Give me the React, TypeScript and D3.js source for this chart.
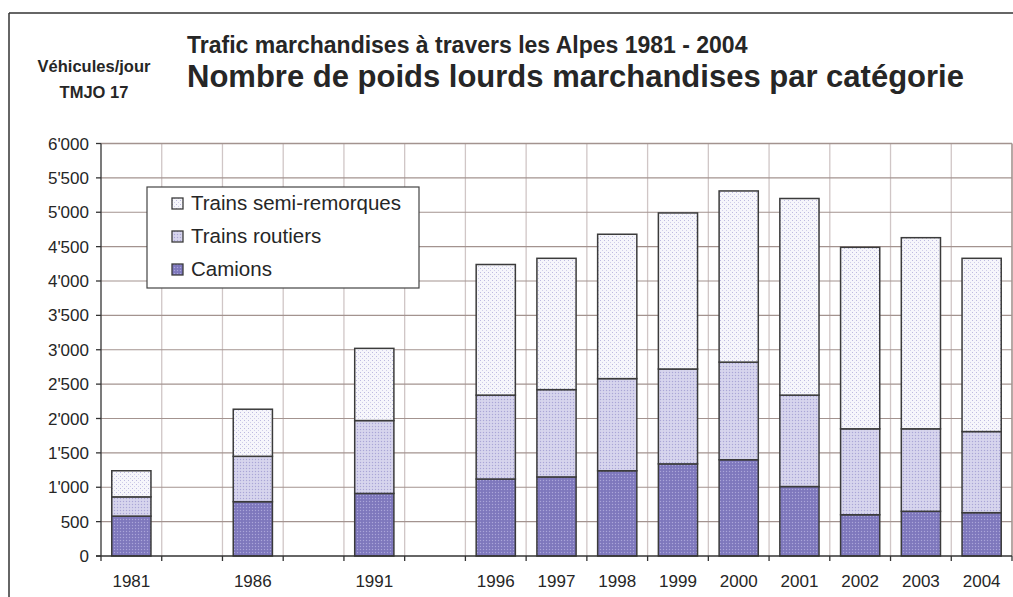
import React from "react";
import * as d3 from "d3";

const slots = ["1981", "_a", "1986", "_b", "1991", "_c", "1996", "1997", "1998", "1999", "2000", "2001", "2002", "2003", "2004"];
const years = ["1981", "1986", "1991", "1996", "1997", "1998", "1999", "2000", "2001", "2002", "2003", "2004"];
const camions = [580, 790, 910, 1120, 1150, 1240, 1340, 1400, 1010, 600, 650, 630];
const trainsRoutiers = [280, 660, 1060, 1220, 1270, 1340, 1380, 1420, 1330, 1250, 1200, 1180];
const trainsSemiRemorques = [380, 685, 1050, 1900, 1910, 2100, 2270, 2490, 2860, 2640, 2780, 2520];
const yTicks = [0, 500, 1000, 1500, 2000, 2500, 3000, 3500, 4000, 4500, 5000, 5500, 6000];
const seriesNames = ["Camions", "Trains routiers", "Trains semi-remorques"];
const legendOrder = ["Trains semi-remorques", "Trains routiers", "Camions"];

const W = 1013;
const H = 597;
const fmt = d3.formatLocale({ decimal: ".", thousands: "'", grouping: [3], currency: ["", ""] }).format(",");
const font = "Liberation Sans, Arial, sans-serif";

export default function App() {
  const x = d3.scaleBand<string>().domain(slots).range([101, 1012]).paddingInner(0).paddingOuter(0);
  const y = d3.scaleLinear().domain([0, 6000]).range([556, 143.5]);
  const barW = x.bandwidth() / 1.55;

  const rows = years.map((yr, i) => ({
    year: yr,
    Camions: camions[i],
    "Trains routiers": trainsRoutiers[i],
    "Trains semi-remorques": trainsSemiRemorques[i],
  }));
  const stacked = d3.stack<any>().keys(seriesNames)(rows);
  const patId: Record<string, string> = {
    Camions: "pCam",
    "Trains routiers": "pRout",
    "Trains semi-remorques": "pSemi",
  };

  const boundaries = slots.map((s) => x(s)!).concat([x.range()[1]]);
  const [plotL, plotR] = x.range();
  const gridH = "#a3938f";
  const gridV = "#d0c6c6";
  const axisC = "#333333";
  const textC = "#262626";

  return (
    <svg width={W} height={H} style={{ position: "absolute", left: 0, top: 0, background: "#fff" }} fontFamily={font}>
      <defs>
        <pattern id="pCam" width="3" height="3" patternUnits="userSpaceOnUse">
          <rect width="3" height="3" fill="#837cc0" />
          <rect width="1" height="1" fill="#aaa6d8" />
          <rect x="1.5" y="1.5" width="1" height="1" fill="#716ab2" />
        </pattern>
        <pattern id="pRout" width="3" height="3" patternUnits="userSpaceOnUse">
          <rect width="3" height="3" fill="#d2d0eb" />
          <rect width="1" height="1" fill="#aaa6d6" />
          <rect x="1.5" y="1.5" width="1" height="1" fill="#e6e5f4" />
        </pattern>
        <pattern id="pSemi" width="4" height="4" patternUnits="userSpaceOnUse">
          <rect width="4" height="4" fill="#f6f6fb" />
          <rect width="1" height="1" fill="#bdbae0" />
          <rect x="2" y="2" width="1" height="1" fill="#d0cee9" />
        </pattern>
      </defs>

      {/* frame */}
      <line x1={9} y1={13} x2={W} y2={13} stroke="#333" strokeWidth={1.5} />
      <line x1={9} y1={13} x2={9} y2={H} stroke="#333" strokeWidth={1.5} />

      {/* titles */}
      <text x={187} y={53} fontSize={23} fontWeight="bold" fill={textC}>
        Trafic marchandises à travers les Alpes 1981 - 2004
      </text>
      <text x={187} y={87} fontSize={31} fontWeight="bold" fill={textC}>
        Nombre de poids lourds marchandises par catégorie
      </text>
      <text x={94} y={72} fontSize={16.5} fontWeight="bold" fill={textC} textAnchor="middle">
        Véhicules/jour
      </text>
      <text x={94} y={98} fontSize={16.5} fontWeight="bold" fill={textC} textAnchor="middle">
        TMJO 17
      </text>

      {/* vertical gridlines */}
      {boundaries.slice(1, -1).map((bx, i) => (
        <line key={"v" + i} x1={bx} x2={bx} y1={y(6000)} y2={y(0)} stroke={gridV} strokeWidth={1.3} />
      ))}
      {/* horizontal gridlines */}
      {yTicks.slice(1).map((t) => (
        <line key={"h" + t} x1={plotL} x2={plotR} y1={y(t)} y2={y(t)} stroke={gridH} strokeWidth={t === 6000 ? 1.6 : 1.2} />
      ))}
      <line x1={plotR} x2={plotR} y1={y(6000)} y2={y(0)} stroke={gridH} strokeWidth={1.6} />

      {/* bars */}
      {stacked.map((layer) =>
        layer.map((d, i) => {
          const cx = x(years[i])! + x.bandwidth() / 2;
          return (
            <rect
              key={layer.key + i}
              x={cx - barW / 2}
              y={y(d[1])}
              width={barW}
              height={y(d[0]) - y(d[1])}
              fill={`url(#${patId[layer.key]})`}
              stroke="#3b3b3b"
              strokeWidth={1.5}
            />
          );
        })
      )}

      {/* axes */}
      <line x1={plotL} x2={plotL} y1={y(6000)} y2={y(0)} stroke={axisC} strokeWidth={1.3} />
      <line x1={plotL - 5} x2={plotR} y1={y(0)} y2={y(0)} stroke={axisC} strokeWidth={1.3} />
      {yTicks.map((t) => (
        <g key={"yt" + t}>
          <line x1={plotL - 5} x2={plotL} y1={y(t)} y2={y(t)} stroke={axisC} strokeWidth={1.3} />
          <text x={89} y={y(t)} dy="0.36em" textAnchor="end" fontSize={17} fill={textC}>
            {fmt(t)}
          </text>
        </g>
      ))}
      {boundaries.map((bx, i) => (
        <line key={"xt" + i} x1={bx} x2={bx} y1={y(0)} y2={y(0) + 5} stroke={axisC} strokeWidth={1.3} />
      ))}
      {years.map((yr) => (
        <text key={"xl" + yr} x={x(yr)! + x.bandwidth() / 2} y={587} textAnchor="middle" fontSize={17} fill={textC}>
          {yr}
        </text>
      ))}

      {/* legend */}
      <rect x={147} y={187} width={272} height={101} fill="#fff" stroke="#444" strokeWidth={1.2} />
      {legendOrder.map((name, i) => (
        <g key={"lg" + name}>
          <rect x={172} y={198 + i * 33} width={11} height={11} fill={`url(#${patId[name]})`} stroke="#3b3b3b" strokeWidth={1.3} />
          <text x={191} y={210 + i * 33} fontSize={20.5} fill={textC}>
            {name}
          </text>
        </g>
      ))}
    </svg>
  );
}
